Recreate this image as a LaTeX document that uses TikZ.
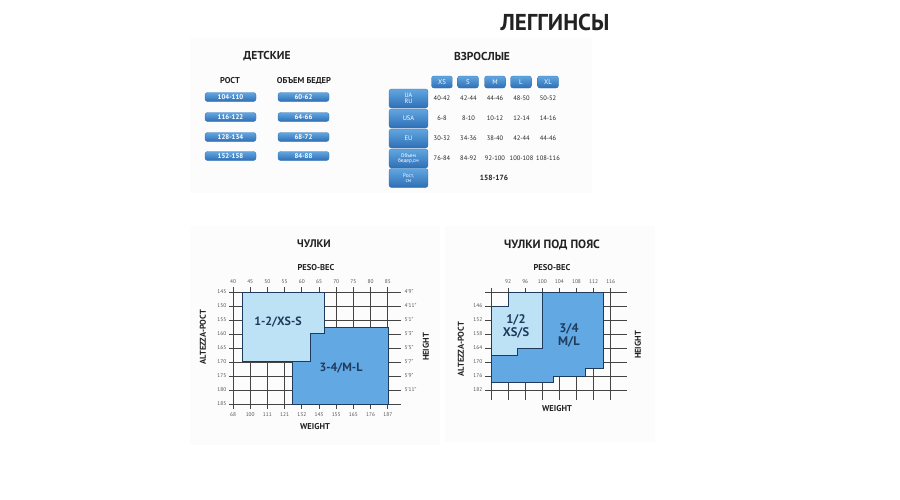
\documentclass[tikz,border=0pt]{standalone}
\usepackage{fontspec}
\setmainfont{PT Sans}
\definecolor{panel}{HTML}{FCFCFD}
\definecolor{ink}{HTML}{222222}
\definecolor{axis}{HTML}{555555}
\definecolor{gridc}{HTML}{444444}
\definecolor{btntop}{HTML}{62A6E0}
\definecolor{btnbot}{HTML}{2E6FB5}
\definecolor{lightbox}{HTML}{BDE2F6}
\definecolor{darkbox}{HTML}{62A8E2}
\definecolor{boxline}{HTML}{1E3A5C}
\tikzset{
  bigtitle/.style={font=\bfseries\fontsize{23}{25}\selectfont, text=ink},
  hone/.style={font=\bfseries\fontsize{11.5}{13}\selectfont, text=ink},
  htwo/.style={font=\bfseries\fontsize{8.5}{9}\selectfont, text=ink},
  btn/.style={rounded corners=2.5pt, top color=btntop, bottom color=btnbot, draw=btnbot,
    line width=0.3pt, text=white, font=\bfseries\fontsize{6.8}{7}\selectfont,
    inner sep=0pt, align=center},
  val/.style={font=\fontsize{6.5}{7}\selectfont, text=ink, inner sep=0pt},
  ctitle/.style={font=\bfseries\fontsize{11}{13}\selectfont, text=ink},
  axtitle/.style={font=\bfseries\fontsize{8.5}{9}\selectfont, text=ink},
  num/.style={font=\fontsize{5.4}{6}\selectfont, text=axis, inner sep=0.5pt},
  gridline/.style={draw=gridc, line width=0.9pt},
  lbox/.style={fill=lightbox, draw=boxline, line width=1pt},
  dbox/.style={fill=darkbox, draw=boxline, line width=1pt},
  boxtext/.style={font=\bfseries\fontsize{12}{13}\selectfont, text=boxline, align=center},
}
\begin{document}
\begin{tikzpicture}[x=1pt,y=-1pt]
\useasboundingbox (0,0) rectangle (900,499);
\fill[white] (0,0) rectangle (900,499);
% faint panels
\fill[panel] (190,38) rectangle (592,193);
\fill[panel] (190,226) rectangle (440,445);
\fill[panel] (445,226) rectangle (655,442);

% main title
\node[bigtitle] (title) at (555,22) {ЛЕГГИНСЫ};

% ---------- children ----------
\node[hone] (det) at (267,56) {ДЕТСКИЕ};
\node[htwo] (rost) at (230,81) {РОСТ};
\node[htwo] (obem) at (304,81) {ОБЪЕМ БЕДЕР};
\foreach \y/\a/\b [count=\k] in {97/104-110/60-62, 117/116-122/64-66, 137/128-134/68-72, 156/152-158/84-88}{
  \node[btn, minimum width=51pt, minimum height=9pt] (ca\k) at (230.5,\y) {\a};
  \node[btn, minimum width=51pt, minimum height=9pt] (cb\k) at (303.5,\y) {\b};
}

% ---------- adults ----------
\node[hone] (vzr) at (482,56) {ВЗРОСЛЫЕ};
\foreach \x/\s [count=\k] in {442/XS, 468/S, 495/M, 521/L, 548/XL}{
  \node[btn, minimum width=21pt, minimum height=12pt, font=\fontsize{6.8}{7}\selectfont] (sz\k) at (\x,82) {\s};
}
\node[btn, minimum width=39pt, minimum height=19pt, font=\fontsize{6.3}{6}\selectfont] (ruA) at (408.5,98.5) {UA\\RU};
\node[btn, minimum width=39pt, minimum height=19pt, font=\fontsize{6.5}{6}\selectfont] (ruB) at (408.5,118.5) {USA};
\node[btn, minimum width=39pt, minimum height=19pt, font=\fontsize{6.5}{6}\selectfont] (ruC) at (408.5,138.5) {EU};
\node[btn, minimum width=39pt, minimum height=19pt, font=\fontsize{5.3}{5.4}\selectfont] (ruD) at (408.5,158.5) {Объем\\бедер,см};
\node[btn, minimum width=39pt, minimum height=19pt, font=\fontsize{5.3}{5.4}\selectfont] (ruE) at (408.5,178) {Рост,\\см};
\foreach \y/\r [count=\j] in {98.5/{40-42,42-44,44-46,48-50,50-52},
                              118.5/{6-8,8-10,10-12,12-14,14-16},
                              138.5/{30-32,34-36,38-40,42-44,44-46},
                              158.5/{76-84,84-92,92-100,100-108,108-116}}{
  \foreach \v [count=\k] in \r {
    \pgfmathsetmacro{\xx}{442+26.5*(\k-1)}
    \node[val] (v\j\k) at (\xx,\y) {\v};
  }
}
\node[val, font=\bfseries\fontsize{7.5}{8}\selectfont] (vrost) at (494,177.5) {158-176};

% ---------- chart 1: ЧУЛКИ ----------
\node[ctitle] (ch1t) at (314,244) {ЧУЛКИ};
\node[axtitle] (ch1p) at (316,268) {PESO-ВЕС};
\node[axtitle] (ch1w) at (315,427) {WEIGHT};
\node[axtitle, rotate=90] (ch1a) at (203,337) {ALTEZZA-РОСТ};
\node[axtitle, rotate=90] (ch1h) at (426,347) {HEIGHT};
\foreach \i in {0,...,9}{
  \draw[gridline] ({233+17.2*\i},287) -- ({233+17.2*\i},409);
}
\foreach \j in {0,...,8}{
  \draw[gridline] (229,{292+14*\j}) -- (401,{292+14*\j});
}
\fill[dbox] (292,327) rectangle (388,404);
\draw[lbox] (242,292) -- (324,292) -- (324,333) -- (310,333) -- (310,361) -- (242,361) -- cycle;
\node[boxtext] (s12) at (278,322) {1-2/XS-S};
\node[boxtext] (s34) at (341,368) {3-4/M-L};
\foreach \t [count=\k from 0] in {40,45,50,55,60,65,70,75,80,85}{
  \node[num] (c1t\k) at ({233+17.2*\k},281.5) {\t};
}
\foreach \t [count=\k from 0] in {68,100,111,121,132,143,155,165,176,187}{
  \node[num] (c1b\k) at ({233+17.2*\k},415) {\t};
}
\foreach \t [count=\k from 0] in {145,150,155,160,165,170,175,180,185}{
  \node[num, anchor=east] (c1l\k) at (227,{292+14*\k}) {\t};
}
\foreach \t [count=\k from 0] in {4'9",4'11",5'1",5'3",5'5",5'7",5'9",5'11"}{
  \node[num, anchor=west] (c1r\k) at (404,{292+14*\k}) {\t};
}

% ---------- chart 2: ЧУЛКИ ПОД ПОЯС ----------
\node[ctitle, font=\bfseries\fontsize{12}{13}\selectfont] (ch2t) at (552,245) {ЧУЛКИ ПОД ПОЯС};
\node[axtitle] (ch2p) at (552,268) {PESO-ВЕС};
\node[axtitle] (ch2w) at (557,409) {WEIGHT};
\node[axtitle, rotate=90] (ch2a) at (461,349) {ALTEZZA-РОСТ};
\node[axtitle, rotate=90] (ch2h) at (638,345) {HEIGHT};
\foreach \i in {0,...,7}{
  \draw[gridline] ({491+17.1*\i},288) -- ({491+17.1*\i},400);
}
\foreach \j in {0,...,7}{
  \draw[gridline] (485,{292+14*\j}) -- (627,{292+14*\j});
}
\draw[dbox] (491,306) -- (508,306) -- (508,292) -- (603,292) -- (603,368) -- (585,368)
  -- (585,376) -- (553,376) -- (553,382) -- (491,382) -- cycle;
\draw[lbox] (491,306) -- (508,306) -- (508,292) -- (542,292) -- (542,348) -- (517,348)
  -- (517,355) -- (491,355) -- cycle;
\node[boxtext, font=\bfseries\fontsize{12.5}{13}\selectfont] (s12b) at (516,326.5) {1/2\\XS/S};
\node[boxtext, font=\bfseries\fontsize{12.5}{13}\selectfont] (s34b) at (569,335) {3/4\\M/L};
\foreach \t [count=\k] in {92,96,100,104,108,112,116}{
  \node[num] (c2t\k) at ({491+17.1*\k},281.5) {\t};
}
\foreach \t [count=\k] in {146,152,158,164,170,176,182}{
  \node[num, anchor=east] (c2l\k) at (483,{292+14*\k}) {\t};
}
\end{tikzpicture}
\end{document}
